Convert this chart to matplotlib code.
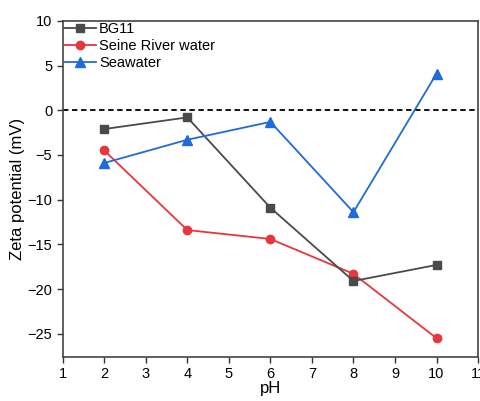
import matplotlib.pyplot as plt

ph = [2, 4, 6, 8, 10]
bg11 = [-2.1, -0.8, -10.9, -19.1, -17.3]
seine = [-4.5, -13.4, -14.4, -18.3, -25.5]
seawater = [-5.9, -3.3, -1.3, -11.4, 4.1]
x_ticks = list(range(1, 12))
y_ticks = [-25, -20, -15, -10, -5, 0, 5, 10]

plt.rcParams['font.family'] = ['Liberation Sans', 'DejaVu Sans']

fig = plt.figure(figsize=(4.8, 4.01), dpi=100)
ax = fig.add_axes([0.1306, 0.1097, 0.8654, 0.8383])

ax.axhline(0, color='black', linestyle=(0, (3, 2)), linewidth=1.3, zorder=1)
ax.plot(ph, seine, color='#e8363d', marker='o', markersize=6, linewidth=1.3,
        label='Seine River water', zorder=2)
ax.plot(ph, bg11, color='#4a4a4a', marker='s', markersize=5.5, linewidth=1.3,
        label='BG11', zorder=3)
ax.plot(ph, seawater, color='#1f6bd8', marker='^', markersize=6.5, linewidth=1.3,
        label='Seawater', zorder=4)

ax.set_xlim(1, 11)
ax.set_ylim(-27.6, 10)
ax.set_xticks(x_ticks)
ax.set_yticks(y_ticks)
ax.set_xticklabels([str(v) for v in x_ticks])
ax.set_xlabel('pH', fontsize=12, labelpad=0)
ax.set_ylabel('Zeta potential (mV)', fontsize=12, labelpad=2)
ax.tick_params(labelsize=10.5, direction='out', length=4, width=1, color='#333333')
for s in ax.spines.values():
    s.set_color('#444444')
    s.set_linewidth(1.2)

handles, labels = ax.get_legend_handles_labels()
order = [1, 0, 2]
ax.legend([handles[i] for i in order], [labels[i] for i in order],
          loc='upper left', frameon=False, fontsize=10.5, handlelength=2.2,
          handletextpad=0.2, borderaxespad=0.0, borderpad=0.1, labelspacing=0.2)

fig.savefig('out.png', dpi=100)
